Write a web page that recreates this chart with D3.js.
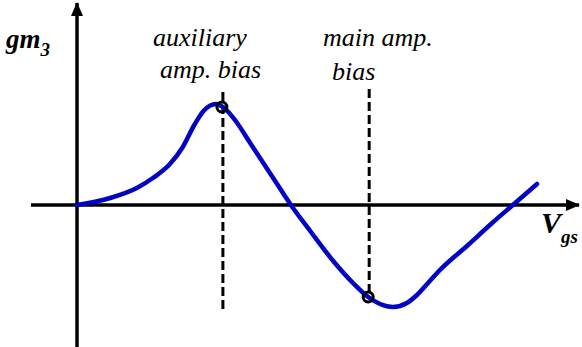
<!DOCTYPE html>
<html>
<head>
<meta charset="utf-8">
<script src="https://cdn.jsdelivr.net/npm/d3@7"></script>
</head>
<body style="margin:0">
<script>
// gm3 versus Vgs (arbitrary units)
const vgs = [0, 0.72, 1.30, 1.65, 2.02, 2.30, 2.55, 2.75, 3.02, 3.20, 3.45, 3.75, 4.05, 4.35, 4.65,
             5.07, 5.57, 6.00, 6.33, 6.59, 6.87, 7.17, 7.39, 7.67, 7.89, 8.50, 9.00, 9.50, 10.0];
const gm3 = [0, 0.07, 0.17, 0.27, 0.41, 0.58, 0.80, 0.94, 1.01, 0.97, 0.84, 0.63, 0.42, 0.21, 0,
             -0.26, -0.56, -0.78, -0.92, -0.99, -1.02, -0.98, -0.90, -0.76, -0.65, -0.40, -0.19, 0.01, 0.21];

// bias points marked on the curve
const biasVgs = [3.15, 6.33];
const biasGm3 = [0.98, -0.92];
// vertical guide extents (gm3 units)
const guideTop = [1.13, 1.16];
const guideBottom = [-1.05, -0.92];

// annotation text
const biasLines = [["auxiliary", "amp. bias"], ["main amp.", "bias"]];

const W = 582, H = 347;
const x = d3.scaleLinear().domain([0, 10]).range([77, 537]);
const y = d3.scaleLinear().domain([-1, 1]).range([305, 105]);

const svg = d3.select("body").append("svg")
  .attr("width", W).attr("height", H).style("display", "block");

const defs = svg.append("defs");
defs.append("marker").attr("id", "arrow")
  .attr("viewBox", "0 0 14 12").attr("refX", 13).attr("refY", 6)
  .attr("markerUnits", "userSpaceOnUse")
  .attr("markerWidth", 14).attr("markerHeight", 12).attr("orient", "auto")
  .append("path").attr("d", "M0,0 L14,6 L0,12 Z").attr("fill", "#000");

// axes
const x0 = x(0), y0 = y(0);
svg.append("line").attr("x1", 31).attr("x2", 579).attr("y1", y0).attr("y2", y0)
  .attr("stroke", "#000").attr("stroke-width", 3.5).attr("marker-end", "url(#arrow)");
svg.append("line").attr("x1", x0).attr("x2", x0).attr("y1", H).attr("y2", 3)
  .attr("stroke", "#000").attr("stroke-width", 3.5).attr("marker-end", "url(#arrow)");

// dashed guides
svg.selectAll(".guide").data(biasVgs).join("line")
  .attr("class", "guide")
  .attr("x1", d => x(d) + 1).attr("x2", d => x(d) + 1)
  .attr("y1", (d, i) => y(guideTop[i])).attr("y2", (d, i) => y(guideBottom[i]))
  .attr("stroke", "#000").attr("stroke-width", 3).attr("stroke-dasharray", "9,4");

// curve
const pts = vgs.map((v, i) => [v, gm3[i]]);
svg.append("path").datum(pts)
  .attr("d", d3.line().x(d => x(d[0])).y(d => y(d[1])).curve(d3.curveMonotoneX))
  .attr("fill", "none").attr("stroke", "#0303c4").attr("stroke-width", 4.5)
  .attr("stroke-linecap", "round").attr("stroke-linejoin", "round");

// bias markers
svg.selectAll(".bias").data(biasVgs).join("circle")
  .attr("class", "bias")
  .attr("cx", d => x(d)).attr("cy", (d, i) => y(biasGm3[i]))
  .attr("r", 5).attr("fill", "none").attr("stroke", "#000").attr("stroke-width", 3);

// bias annotations
const labelPos = [[[153, 46], [160, 78]], [[323, 46], [332, 80]]];
const annot = biasLines.flatMap((lines, i) => lines.map((t, j) => ({ t, p: labelPos[i][j] })));
svg.selectAll(".annot").data(annot).join("text")
  .attr("class", "annot")
  .attr("x", d => d.p[0]).attr("y", d => d.p[1])
  .attr("font-family", "Liberation Serif").attr("font-style", "italic").attr("font-size", 26)
  .style("font-family", "Liberation Serif")
  .text(d => d.t);

// axis titles
const yt = svg.append("text").attr("x", 6).attr("y", 48)
  .attr("font-family", "Liberation Serif").style("font-family", "Liberation Serif")
  .attr("font-style", "italic").attr("font-weight", "bold").attr("font-size", 27);
yt.append("tspan").text("gm");
yt.append("tspan").attr("font-size", 19).attr("dy", 8).text("3");

const xt = svg.append("text").attr("x", 541).attr("y", 233)
  .attr("font-family", "Liberation Serif").style("font-family", "Liberation Serif")
  .attr("font-style", "italic").attr("font-weight", "bold").attr("font-size", 30);
xt.append("tspan").text("V");
xt.append("tspan").attr("font-size", 19).attr("dy", 10).text("gs");
</script>
</body>
</html>
